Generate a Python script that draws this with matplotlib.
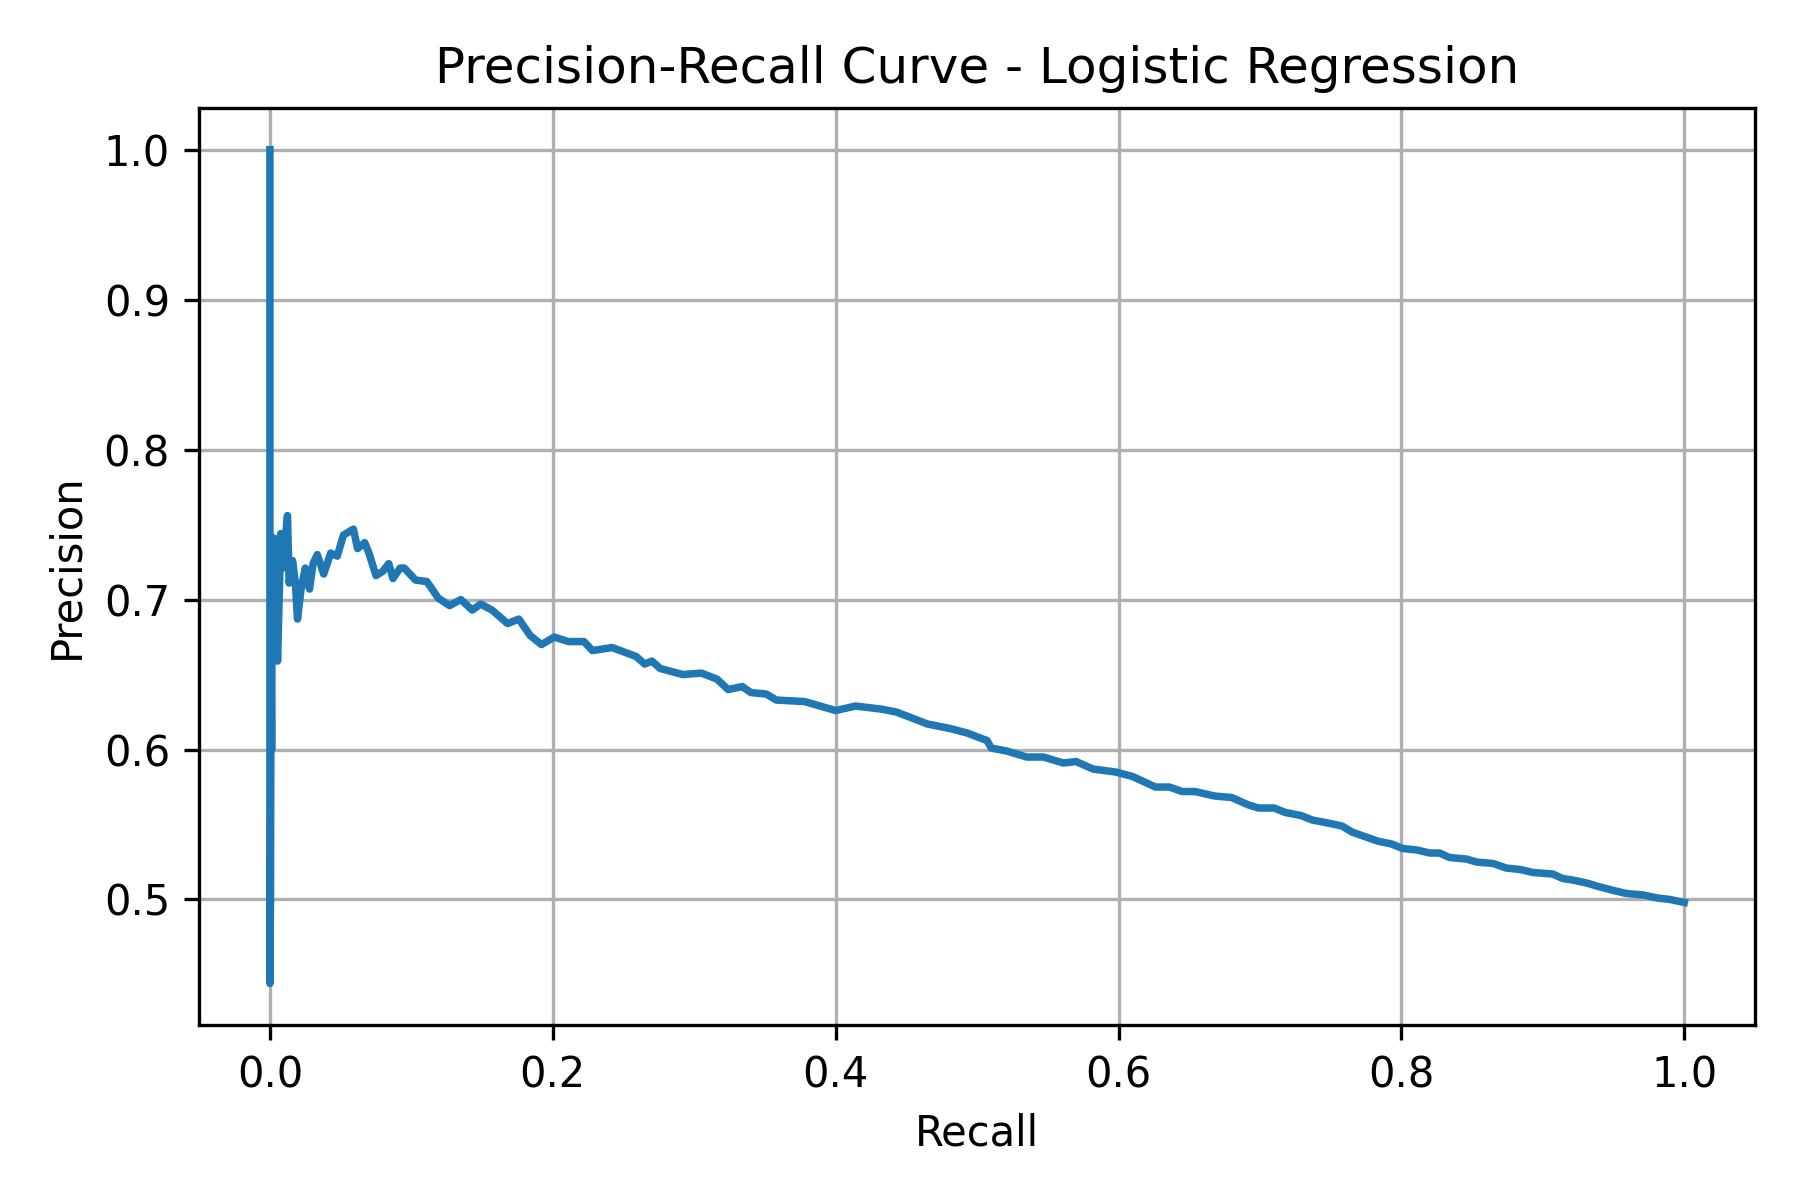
import matplotlib.pyplot as plt

# valores (recall, precision)
recall = [0.0, 0.0, 0.0004, 0.0008, 0.0012, 0.0016, 0.002, 0.003, 0.0054, 0.0077,
          0.009, 0.0124, 0.0136, 0.016, 0.018, 0.0195, 0.022, 0.025, 0.028, 0.0305,
          0.0335, 0.038, 0.043, 0.0476, 0.052, 0.059, 0.062, 0.067, 0.070, 0.075,
          0.080, 0.084, 0.087, 0.092, 0.095, 0.103, 0.111, 0.119, 0.127, 0.135,
          0.143, 0.149, 0.157, 0.168, 0.176, 0.184, 0.192, 0.201, 0.211, 0.222,
          0.228, 0.242, 0.259, 0.265, 0.270, 0.276, 0.292, 0.305, 0.316, 0.324,
          0.334, 0.340, 0.351, 0.358, 0.378, 0.400, 0.414, 0.432, 0.443, 0.465,
          0.481, 0.493, 0.507, 0.510, 0.521, 0.535, 0.547, 0.561, 0.570, 0.582,
          0.598, 0.610, 0.626, 0.636, 0.645, 0.654, 0.668, 0.680, 0.692, 0.699,
          0.710, 0.718, 0.729, 0.737, 0.748, 0.758, 0.765, 0.774, 0.783, 0.793,
          0.801, 0.811, 0.820, 0.827, 0.834, 0.846, 0.853, 0.865, 0.874, 0.884,
          0.893, 0.907, 0.914, 0.921, 0.931, 0.938, 0.950, 0.959, 0.971, 0.981,
          0.990, 1.0]
precision = [1.0, 0.444, 0.50, 0.667, 0.60, 0.714, 0.68, 0.741, 0.659, 0.744,
             0.721, 0.756, 0.711, 0.726, 0.711, 0.687, 0.707, 0.721, 0.707, 0.724,
             0.730, 0.717, 0.731, 0.729, 0.743, 0.747, 0.734, 0.738, 0.731, 0.716,
             0.719, 0.724, 0.714, 0.721, 0.721, 0.713, 0.712, 0.701, 0.696, 0.700,
             0.693, 0.697, 0.693, 0.684, 0.687, 0.676, 0.670, 0.675, 0.672, 0.672,
             0.666, 0.668, 0.662, 0.657, 0.659, 0.654, 0.650, 0.651, 0.647, 0.640,
             0.642, 0.638, 0.637, 0.633, 0.632, 0.626, 0.629, 0.627, 0.625, 0.617,
             0.614, 0.611, 0.606, 0.601, 0.599, 0.595, 0.595, 0.591, 0.592, 0.587,
             0.585, 0.582, 0.575, 0.575, 0.572, 0.572, 0.569, 0.568, 0.563, 0.561,
             0.561, 0.558, 0.556, 0.553, 0.551, 0.549, 0.545, 0.542, 0.539, 0.537,
             0.534, 0.533, 0.531, 0.531, 0.528, 0.527, 0.525, 0.524, 0.521, 0.520,
             0.518, 0.517, 0.514, 0.513, 0.511, 0.509, 0.506, 0.504, 0.503, 0.501,
             0.500, 0.498]

plt.figure(figsize=(6, 4), dpi=300)
plt.plot(recall, precision, linewidth=1.8)
plt.xlabel('Recall')
plt.ylabel('Precision')
plt.title('Precision-Recall Curve - Logistic Regression')
plt.grid(True)
plt.tight_layout()
plt.savefig('out.png')
